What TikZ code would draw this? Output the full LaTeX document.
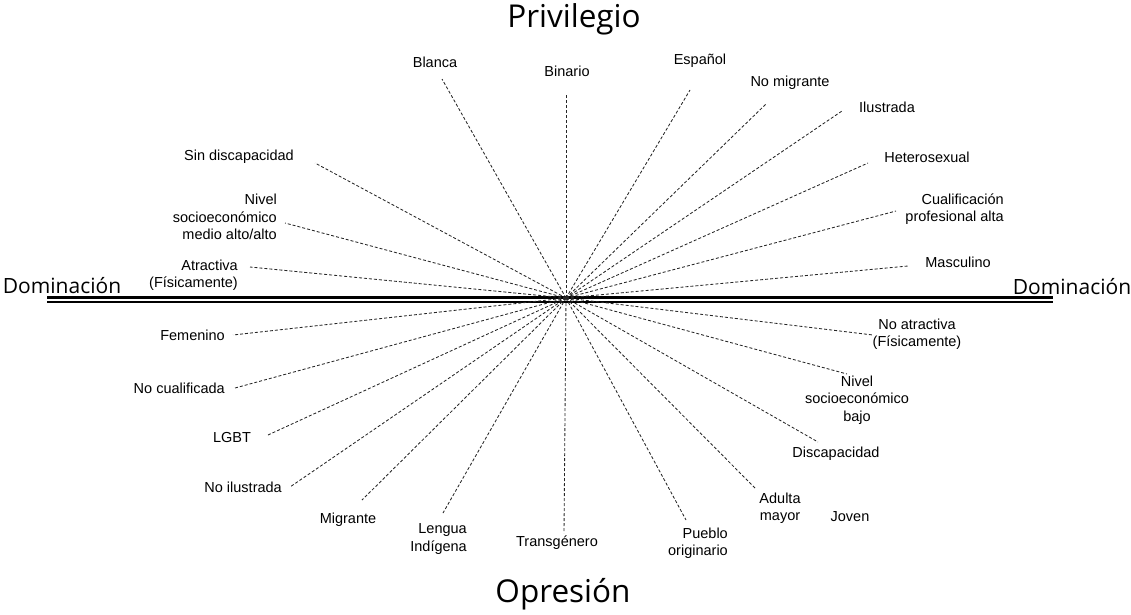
\documentclass[tikz,border=0pt]{standalone}
\usepackage{fontspec}
\setmainfont{Liberation Sans}
\newfontfamily\titlefont{Open Sans}
\begin{document}
\begin{tikzpicture}[x=1pt,y=-1pt,
  lbl/.style={inner sep=0pt,font=\fontsize{14.5}{17.5}\selectfont,text=black},
  ttl/.style={inner sep=0pt,font=\titlefont\fontsize{31.5}{33}\selectfont},
  dttl/.style={inner sep=0pt,font=\titlefont\fontsize{21}{24}\selectfont},
  ray/.style={draw=black!85,line width=0.85pt,dash pattern=on 3pt off 2pt}]
\useasboundingbox (0,0) rectangle (1131,614);
% titles
\node[ttl] (priv) at (574,19) {Privilegio};
\node[ttl] (opr) at (563,594) {Opresión};
\node[dttl] (domL) at (62,286) {Dominación};
\node[dttl] (domR) at (1072,287) {Dominación};
% axis
\coordinate (axL) at (47,297.5);
\coordinate (axR) at (1053,297.5);
\coordinate (axL2) at (47,302);
\coordinate (axR2) at (1053,302);
\draw[line width=3pt] (axL) -- (axR);
\draw[line width=1.2pt] (axL2) -- (axR2);
\coordinate (c) at (566,298);
% labels
\node[lbl] (blanca) at (435,62) {Blanca};
\node[lbl] (binario) at (567,71) {Binario};
\node[lbl] (espanol) at (700,61) {Español};
\node[lbl] (nomig) at (790,83) {No migrante};
\node[lbl] (ilus) at (887,107) {Ilustrada};
\node[lbl] (hetero) at (927,157) {Heterosexual};
\node[lbl,anchor=east,align=right] (cualif) at (1004,209) {Cualificación\\profesional alta};
\node[lbl] (masc) at (958,262) {Masculino};
\node[lbl] (sindis) at (239,157) {Sin discapacidad};
\node[lbl,anchor=east,align=right] (nivalto) at (277,217) {Nivel\\socioeconómico\\medio alto/alto};
\node[lbl,anchor=east,align=right] (atract) at (238,275) {Atractiva\\(Físicamente)};
\node[lbl,anchor=east] (fem) at (225,335) {Femenino};
\node[lbl,anchor=east] (nocual) at (225,388) {No cualificada};
\node[lbl] (lgbt) at (232,437) {LGBT};
\node[lbl,anchor=east] (noilus) at (282,487) {No ilustrada};
\node[lbl] (migr) at (348,520) {Migrante};
\node[lbl,anchor=east,align=right] (lengua) at (467,539) {Lengua\\Indígena};
\node[lbl] (trans) at (557,543) {Transgénero};
\node[lbl,anchor=east,align=right] (pueblo) at (728,543) {Pueblo\\originario};
\node[lbl,align=center] (adulta) at (780,508) {Adulta\\mayor};
\node[lbl] (joven) at (850,517) {Joven};
\node[lbl] (discap) at (836,454) {Discapacidad};
\node[lbl,align=center] (nivbajo) at (857,400) {Nivel\\socioeconómico\\bajo};
\node[lbl,align=center] (noatr) at (917,334) {No atractiva\\(Físicamente)};
% ray ends
\coordinate (eBlanca) at (442,79);
\coordinate (eBinario) at (566,95);
\coordinate (eEspanol) at (690,90);
\coordinate (eNomig) at (766,104);
\coordinate (eIlus) at (842,111);
\coordinate (eHetero) at (868,163);
\coordinate (eCualif) at (896,211);
\coordinate (eMasc) at (908,266);
\coordinate (eSindis) at (315,163);
\coordinate (eNivalto) at (285,223);
\coordinate (eAtract) at (250,267);
\coordinate (eFem) at (233,335);
\coordinate (eNocual) at (235,388);
\coordinate (eLgbt) at (268,435);
\coordinate (eNoilus) at (290,487);
\coordinate (eMigr) at (362,500);
\coordinate (eLengua) at (443,513);
\coordinate (eTrans) at (564,533);
\coordinate (ePueblo) at (686,520);
\coordinate (eAdulta) at (755,488);
\coordinate (eDiscap) at (818,442);
\coordinate (eNivbajo) at (847,374);
\coordinate (eNoatr) at (873,335);
\foreach \e in {eBlanca,eBinario,eEspanol,eNomig,eIlus,eHetero,eCualif,eMasc,eSindis,eNivalto,eAtract,eFem,eNocual,eLgbt,eNoilus,eMigr,eLengua,eTrans,ePueblo,eAdulta,eDiscap,eNivbajo,eNoatr}
  \draw[ray] (c) -- (\e);
\end{tikzpicture}
\end{document}
